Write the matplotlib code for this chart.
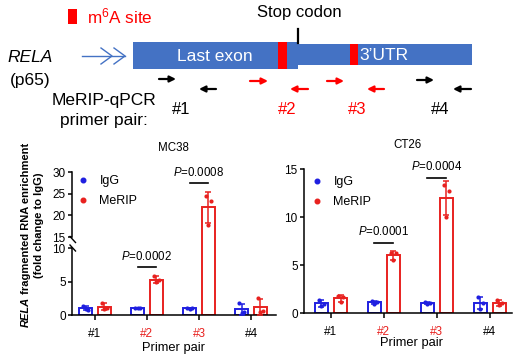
import matplotlib
matplotlib.use('Agg')
import matplotlib.pyplot as plt
from matplotlib.lines import Line2D
from matplotlib.patches import Rectangle
import numpy as np

plt.rcParams['font.family'] = ['Liberation Sans', 'DejaVu Sans']
plt.rcParams['mathtext.fontset'] = 'custom'
plt.rcParams['mathtext.rm'] = 'Liberation Sans'
plt.rcParams['mathtext.it'] = 'Liberation Sans:italic'
plt.rcParams['mathtext.bf'] = 'Liberation Sans:bold'

RED = '#e8211f'
BLUE = '#1f1fe0'
GENE_BLUE = '#4472c4'

# ---------------- data ----------------
primers = ['#1', '#2', '#3', '#4']
primer_is_m6a = [False, True, True, False]

mc38_igg = [[1.4, 0.8, 0.9], [1.0, 1.0, 1.0], [1.1, 1.0, 0.9], [1.8, 0.4, 0.3]]
mc38_merip = [[1.8, 1.1, 0.9], [5.8, 5.2, 4.9], [24.5, 23.3, 17.7], [2.6, 0.6, 0.5]]
ct26_igg = [[1.4, 0.9, 0.7], [1.3, 1.1, 0.9], [1.1, 1.0, 0.9], [1.7, 1.0, 0.4]]
ct26_merip = [[1.8, 1.7, 1.1], [6.3, 6.2, 5.5], [13.3, 12.7, 10.0], [1.4, 1.0, 0.8]]

mc38_sig_groups = [1, 2]
mc38_sig_p = ['0.0002', '0.0008']
ct26_sig_groups = [1, 2]
ct26_sig_p = ['0.0001', '0.0004']

# ---------------- figure ----------------
W, H = 515, 360
fig = plt.figure(figsize=(W / 100, H / 100), dpi=100)


def axes_px(x0, ytop, x1, ybot):
    return fig.add_axes([x0 / W, 1 - ybot / H, (x1 - x0) / W, (ybot - ytop) / H])


OFF = 0.18
BW = 0.25
JIT = [-0.05, 0.05, 0.0]


def draw_bars(ax, igg, merip):
    for i in range(len(primers)):
        for vals, off, col in [(igg, -OFF, BLUE), (merip, OFF, RED)]:
            v = np.array(vals[i])
            m = v.mean()
            sd = v.std(ddof=1)
            ax.bar(i + off, m, width=BW, facecolor='white', edgecolor=col,
                   linewidth=1.4, zorder=2)
            ax.errorbar(i + off, m, yerr=sd, color=col, capsize=2.5,
                        elinewidth=1.1, capthick=1.1, zorder=3)
            ax.scatter(i + off + np.array(JIT), v, s=9, color=col, zorder=4,
                       linewidths=0)


def style_x(ax):
    ax.set_xticks(range(len(primers)))
    ax.set_xticklabels(primers, fontsize=8.5)
    for lab, m6a in zip(ax.get_xticklabels(), primer_is_m6a):
        lab.set_color(RED if m6a else 'black')
    ax.tick_params(axis='x', length=3.5, width=1.1, pad=6)
    ax.tick_params(axis='y', length=3, width=1.1, labelsize=8.5, pad=1.5)
    for s in ['top', 'right']:
        ax.spines[s].set_visible(False)
    for s in ['left', 'bottom']:
        ax.spines[s].set_linewidth(1.1)


def sig(ax, g, y, ytext, p):
    ax.plot([g - OFF, g + OFF], [y, y], color='black', lw=1.2, zorder=5)
    ax.text(g, ytext, '$P$=' + p, ha='center', va='center', fontsize=8.3)


def legend(ax, x, y):
    hs = [Line2D([], [], marker='o', ls='', color=BLUE, ms=3.3),
          Line2D([], [], marker='o', ls='', color=RED, ms=3.3)]
    ax.legend(hs, ['IgG', 'MeRIP'], loc='upper left',
              bbox_to_anchor=(x / W, 1 - y / H), bbox_transform=fig.transFigure,
              frameon=False, fontsize=9, handletextpad=0.8, labelspacing=0.65,
              borderpad=0, borderaxespad=0, handlelength=1.0)


# ---- MC38 (broken axis) ----
XL_L = (-0.44, 3.48)
ax_lo = axes_px(72, 242, 276, 315)
ax_up = axes_px(72, 172, 276, 242)
for ax in (ax_lo, ax_up):
    draw_bars(ax, mc38_igg, mc38_merip)
    ax.set_xlim(*XL_L)
    style_x(ax)
ax_lo.set_ylim(0, 10.9)
ax_lo.set_yticks([0, 5, 10])
ax_lo.spines['left'].set_bounds(0, 10)
ax_up.set_ylim(13.85, 30)
ax_up.set_yticks([15, 20, 25, 30])
ax_up.spines['left'].set_bounds(15, 30)
ax_up.spines['bottom'].set_visible(False)
ax_up.tick_params(axis='x', bottom=False, labelbottom=False)
ax_lo.patch.set_alpha(0)
ax_up.patch.set_alpha(0)
sig(ax_lo, mc38_sig_groups[0], 7.2, 8.7, mc38_sig_p[0])
sig(ax_up, mc38_sig_groups[1], 27.4, 29.8, mc38_sig_p[1])
legend(ax_up, 77, 175)

# ---- CT26 ----
ax_r = axes_px(304, 169, 512, 313)
draw_bars(ax_r, ct26_igg, ct26_merip)
ax_r.set_xlim(-0.51, 3.42)
ax_r.set_ylim(0, 15)
ax_r.set_yticks([0, 5, 10, 15])
style_x(ax_r)
sig(ax_r, ct26_sig_groups[0], 7.3, 8.45, ct26_sig_p[0])
sig(ax_r, ct26_sig_groups[1], 14.1, 15.3, ct26_sig_p[1])
legend(ax_r, 311, 176)

# ---------------- overlay (diagram + labels) ----------------
ov = fig.add_axes([0, 0, 1, 1])
ov.set_xlim(0, W)
ov.set_ylim(H, 0)
ov.axis('off')
ov.patch.set_alpha(0)

# legend for m6A site
ov.add_patch(Rectangle((68, 9), 8.5, 15, color='#ff0000', lw=0))
ov.text(87, 16, 'm$^{6}$A site', color='#ff0000', fontsize=12.3, va='center', ha='left')

# stop codon
ov.text(299, 12, 'Stop codon', fontsize=12, ha='center', va='center')
ov.plot([297.5, 297.5], [29, 43], color='black', lw=1.6)

# gene structure
ov.add_patch(Rectangle((133, 42), 165, 27, color=GENE_BLUE, lw=0))
ov.add_patch(Rectangle((298, 44), 174, 21, color=GENE_BLUE, lw=0))
ov.add_patch(Rectangle((278, 42), 9, 27, color='#ff0000', lw=0))
ov.add_patch(Rectangle((350, 44), 8, 21, color='#ff0000', lw=0))
ov.text(215, 56.5, 'Last exon', color='white', fontsize=12.5, ha='center', va='center')
ov.text(359, 55.5, '3\u2019UTR', color='white', fontsize=12.5, ha='left', va='center')

# blue chevrons
ov.plot([82, 125], [56, 56], color=GENE_BLUE, lw=1.0)
for tip in (112, 125):
    ov.plot([tip - 11, tip, tip - 11], [48, 56, 64], color=GENE_BLUE, lw=1.0)

ov.text(30, 57, 'RELA', fontsize=12.5, style='italic', ha='center', va='center')
ov.text(30, 81, '(p65)', fontsize=12.5, ha='center', va='center')
ov.text(104, 101, 'MeRIP-qPCR', fontsize=12.5, ha='center', va='center')
ov.text(104, 121, 'primer pair:', fontsize=12.5, ha='center', va='center')


def arrow(x0, x1, y, col):
    ov.annotate('', xy=(x1, y), xytext=(x0, y),
                arrowprops=dict(arrowstyle='-|>', color=col, lw=1.6,
                                mutation_scale=9, shrinkA=0, shrinkB=0))


arrow(159, 176, 79, 'black')
arrow(216, 199, 89, 'black')
arrow(250, 268, 81, '#ff0000')
arrow(308, 290, 89, '#ff0000')
arrow(327, 344, 81, '#ff0000')
arrow(384, 367, 89, '#ff0000')
arrow(417, 434, 80, 'black')
arrow(471, 453, 89, 'black')

for lab, xc, m6a in zip(primers, [181, 287, 357, 440], primer_is_m6a):
    ov.text(xc, 110, lab, fontsize=12, ha='center', va='center',
            color='#ff0000' if m6a else 'black')

# break marks
ov.plot([70, 75.5], [236.5, 242.5], color='black', lw=1.0)
ov.plot([70, 75.5], [245, 251], color='black', lw=1.0)

# panel titles and x labels
ov.text(173, 148, 'MC38', fontsize=8.3, ha='center', va='center')
ov.text(407, 145, 'CT26', fontsize=8.3, ha='center', va='center')
ov.text(173, 348, 'Primer pair', fontsize=9.3, ha='center', va='center')
ov.text(412, 343, 'Primer pair', fontsize=9.3, ha='center', va='center')

# y label
r = fig.canvas.get_renderer()
t1 = ov.text(26, 327, 'RELA', fontsize=8, fontweight='bold', style='italic',
             rotation=90, ha='center', va='bottom')
ext = t1.get_window_extent(renderer=r)
ov.text(26, 327 - ext.height, ' fragmented RNA enrichment', fontsize=8,
        fontweight='bold', rotation=90, ha='center', va='bottom')
ov.text(39.5, 225, '(fold change to IgG)', fontsize=8, fontweight='bold',
        rotation=90, ha='center', va='center')

fig.savefig('out.png', dpi=100)
